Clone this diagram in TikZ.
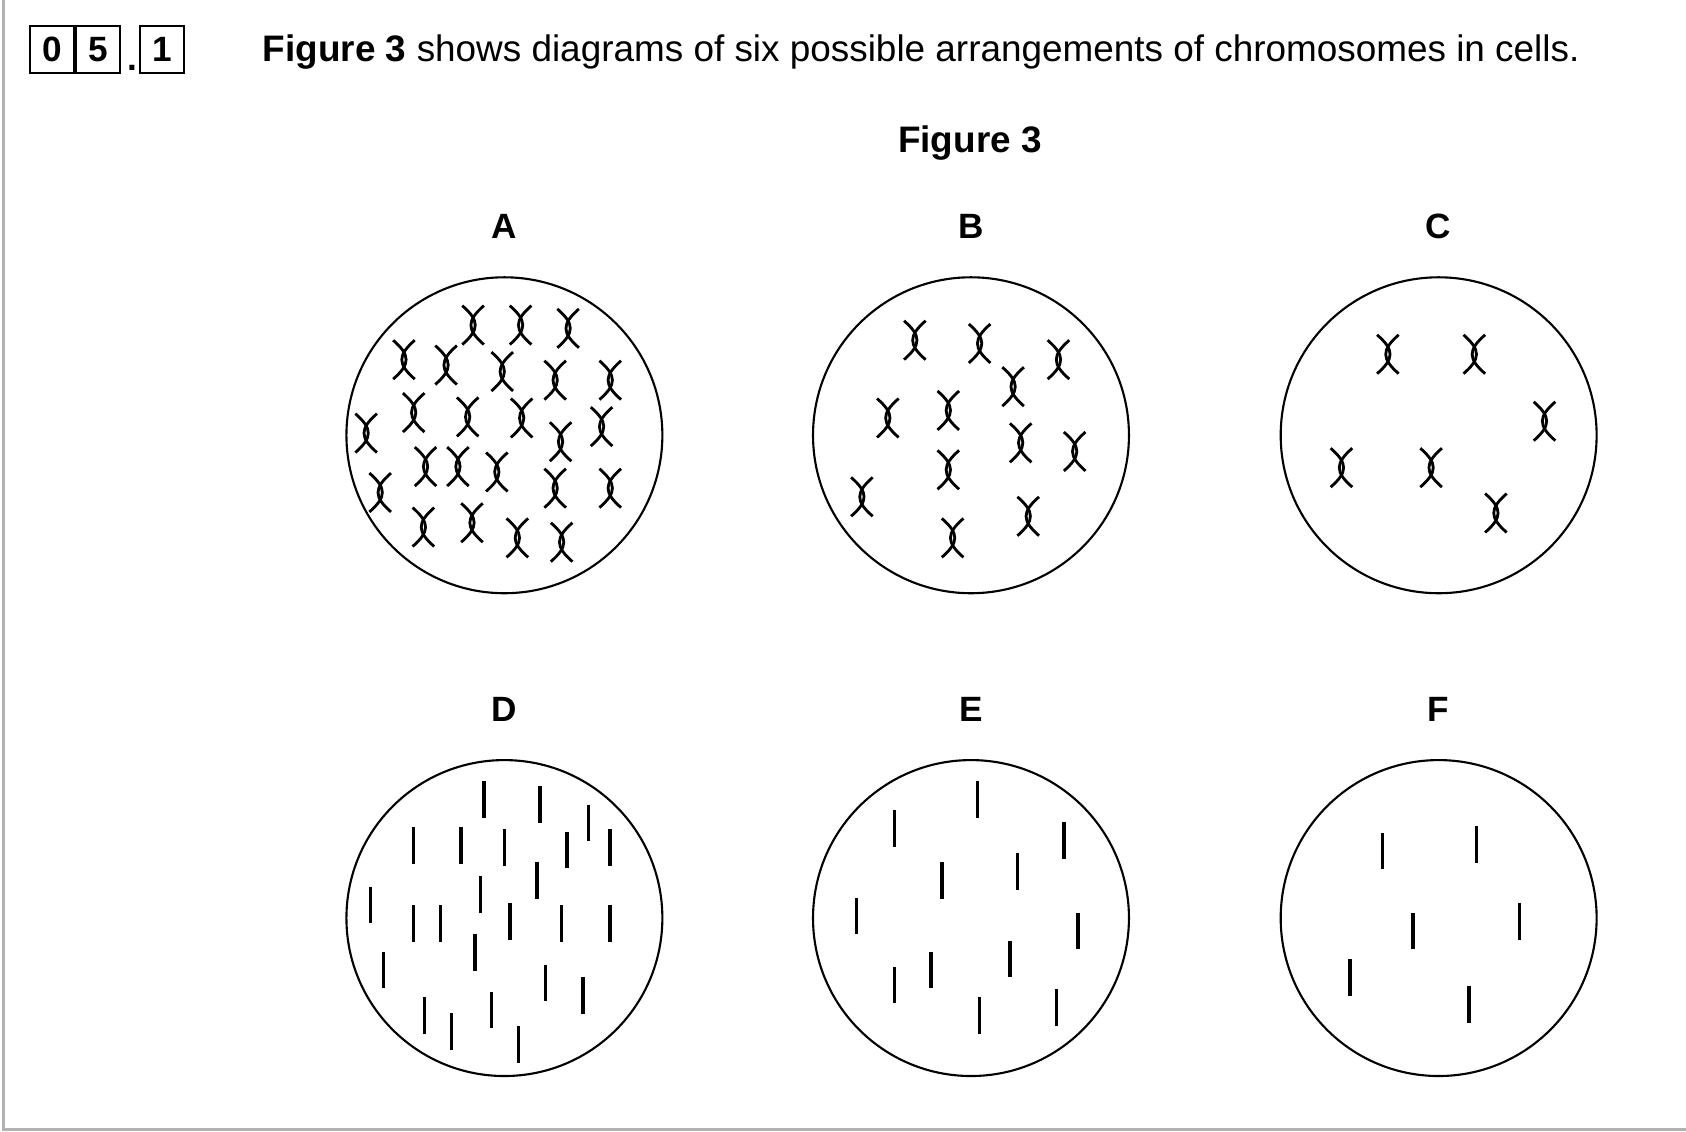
\documentclass[tikz,border=0pt]{standalone}
\usepackage{fontspec}
\setmainfont{Liberation Sans}
\usetikzlibrary{positioning}
\tikzset{
    digit/.style={draw, line width=0.6pt, minimum width=0.44cm, minimum height=0.47cm, inner sep=0pt, font=\fontsize{10pt}{12pt}\selectfont\bfseries},
    cell/.style={circle, draw, line width=0.6pt, minimum size=3.16cm, inner sep=0pt},
    letter/.style={font=\fontsize{10pt}{12pt}\selectfont\bfseries},
    chrx/.pic={
        \draw[line width=0.8pt] (-10,-18) .. controls (6,-4) and (6,4) .. (-10,18);
        \draw[line width=0.8pt] (10,-18) .. controls (-6,-4) and (-6,4) .. (10,18);
    },
    chrbar/.pic={
        \draw[line width=1pt] (0,-17) -- (0,17);
    },
}
\begin{document}
\begin{tikzpicture}[x=0.0108cm, y=-0.0108cm]
    \useasboundingbox (0,0) rectangle (1561,1048);
    % frame
    \draw[gray!60, line width=0.8pt] (3,0) -- (3,1046) -- (1561,1046);

    % question number
    \node[digit] (d0) at (48,46) {0};
    \node[digit, right=0pt of d0] (d5) {5};
    \node[font=\bfseries, right=0.02cm of d5.south east, anchor=south west, inner sep=1pt] (dot) {.};
    \node[digit, right=0.02cm of d5.east, xshift=0.16cm] (d1) {1};
    \node[anchor=west, font=\fontsize{10.5pt}{12pt}\selectfont] (intro) at (232,48)
        {\textbf{Figure 3} shows diagrams of six possible arrangements of chromosomes in cells.};
    \node[letter, font=\fontsize{10.5pt}{12pt}\selectfont\bfseries] (title) at (898,132) {Figure 3};

    % cells
    \node[cell] (cellA) at (467,403) {};
    \node[cell] (cellB) at (899,403) {};
    \node[cell] (cellC) at (1332,403) {};
    \node[cell] (cellD) at (467,850) {};
    \node[cell] (cellE) at (899,850) {};
    \node[cell] (cellF) at (1332,850) {};
    \foreach \c in {A,B,C,D,E,F}
        \node[letter, above=0.25cm of cell\c] (lab\c) {\c};

    % chromosomes before division
    \foreach \p in {(438,301),(482,301),(526,304),(374,333),(413,338),(465,344),(514,352),(565,352),
                    (383,382),(433,386),(483,387),(519,409),(557,395),(339,401),(394,432),(424,432),
                    (460,437),(514,452),(565,452),(352,456),(392,488),(437,484),(479,498),(520,502)}
        \pic at \p {chrx};
    \foreach \p in {(847,315),(907,318),(980,333),(938,358),(822,387),(878,380),
                    (945,410),(995,418),(878,435),(798,460),(952,478),(882,498)}
        \pic at \p {chrx};
    \foreach \p in {(1285,328),(1365,328),(1430,390),(1242,433),(1325,433),(1385,475)}
        \pic at \p {chrx};

    % single chromatids
    \foreach \p in {(448,740),(500,745),(545,762),(383,783),(427,783),(467,785),(525,787),(565,785),
                    (497,815),(445,828),(343,838),(383,855),(408,855),(472,853),(520,855),(565,855),
                    (440,882),(355,898),(505,910),(540,922),(393,940),(418,955),(455,935),(480,967)}
        \pic at \p {chrbar};
    \foreach \p in {(905,740),(828,767),(985,778),(942,807),(872,815),(793,848),
                    (998,862),(862,898),(935,888),(828,912),(907,940),(978,933)}
        \pic at \p {chrbar};
    \foreach \p in {(1367,782),(1280,788),(1308,862),(1407,853),(1250,905),(1360,930)}
        \pic at \p {chrbar};
\end{tikzpicture}
\end{document}
